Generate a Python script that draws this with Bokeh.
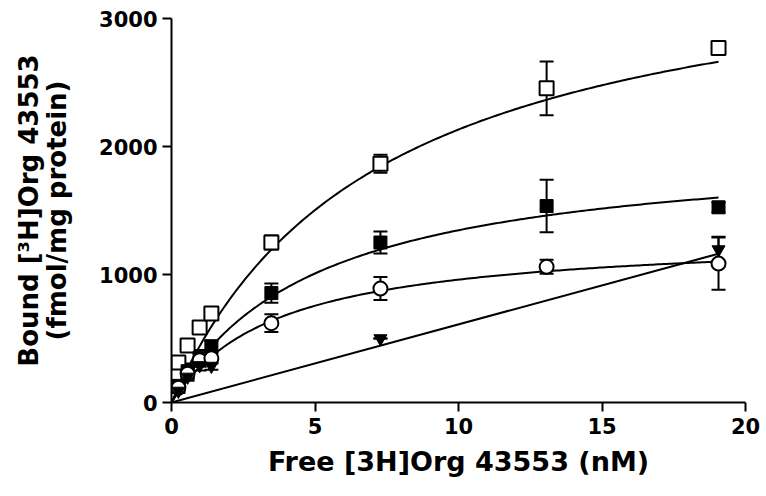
import numpy as np
from bokeh.plotting import figure
from bokeh.models import ColumnDataSource, Whisker, TeeHead, Range1d
from bokeh.embed import file_html
from bokeh.resources import INLINE

# Free concentration (nM)
free_x = [0.24, 0.56, 0.98, 1.39, 3.48, 7.28, 13.07, 19.06]

# Series: bound (fmol/mg protein) and SEM
open_sq_y = [312, 445, 585, 695, 1250, 1865, 2455, 2770]
open_sq_err = [20, 25, 30, 30, 55, 70, 210, 0]
filled_sq_y = [130, 245, 350, 440, 855, 1250, 1535, 1525]
filled_sq_err = [30, 60, 60, 40, 75, 85, 205, 40]
open_ci_y = [115, 225, 330, 345, 620, 890, 1060, 1085]
open_ci_err = [20, 40, 50, 40, 70, 90, 55, 205]
tri_x = [0.24, 0.56, 0.98, 1.39, 7.28, 19.06]
tri_y = [90, 200, 290, 285, 500, 1195]
tri_err = [15, 30, 40, 30, 0, 100]

# Fitted parameters (one-site hyperbola Bmax, Kd)
fit_bmax = [3668, 2024, 1314]
fit_kd = [7.2, 5.04, 3.69]
linear_slope = 61.0
fit_xmax = 19.06

FONT = "DejaVu Sans"

p = figure(width=762, height=492, output_backend="svg", toolbar_location=None,
           x_range=Range1d(0, 20), y_range=Range1d(0, 3000),
           min_border_left=171, min_border_right=17, min_border_top=18, min_border_bottom=90)
p.outline_line_color = None
p.xgrid.visible = False
p.ygrid.visible = False

for ax in (p.xaxis[0], p.yaxis[0]):
    ax.axis_line_width = 2
    ax.major_tick_line_width = 2
    ax.major_tick_out = 9
    ax.major_tick_in = 0
    ax.minor_tick_line_color = None
    ax.major_label_text_font = FONT
    ax.major_label_text_font_style = "bold"
    ax.major_label_text_font_size = "21px"
    ax.major_label_text_color = "black"
    ax.axis_label_text_font = FONT
    ax.axis_label_text_font_style = "bold"
    ax.axis_label_text_font_size = "26px"
    ax.axis_label_text_color = "black"
    ax.axis_label_text_line_height = 0.95

p.xaxis.axis_label_text_font_size = "27px"
p.xaxis.ticker = [0, 5, 10, 15, 20]
p.yaxis.ticker = [0, 1000, 2000, 3000]
p.xaxis.axis_label = "Free [3H]Org 43553 (nM)"
p.yaxis.axis_label = "Bound [\u00b3H]Org 43553\n(fmol/mg protein)"
p.xaxis.major_label_standoff = 6
p.yaxis.major_label_standoff = 5
p.xaxis.axis_label_standoff = 9
p.yaxis.axis_label_standoff = 24

# fitted curves
xs = np.linspace(0, fit_xmax, 200)
for bmax, kd in zip(fit_bmax, fit_kd):
    p.line(xs, bmax * xs / (kd + xs), line_color="black", line_width=2)
p.line([0, fit_xmax], [0, linear_slope * fit_xmax], line_color="black", line_width=2)

def errbars(x, y, e):
    src = ColumnDataSource(dict(x=x, lo=[a - b for a, b in zip(y, e)], hi=[a + b for a, b in zip(y, e)]))
    w = Whisker(source=src, base="x", upper="hi", lower="lo", dimension="height",
                line_color="black", line_width=2,
                upper_head=TeeHead(size=14, line_width=2, line_color="black"),
                lower_head=TeeHead(size=14, line_width=2, line_color="black"))
    p.add_layout(w)

errbars(free_x, open_sq_y, open_sq_err)
errbars(free_x, filled_sq_y, filled_sq_err)
errbars(free_x, open_ci_y, open_ci_err)
errbars(tri_x, tri_y, tri_err)

p.scatter(free_x, open_sq_y, marker="square", size=14, fill_color="white", line_color="black", line_width=2)
p.scatter(free_x, filled_sq_y, marker="square", size=13, fill_color="black", line_color="black", line_width=1)
p.scatter(free_x, open_ci_y, marker="circle", size=14, fill_color="white", line_color="black", line_width=2)
p.scatter(tri_x, tri_y, marker="inverted_triangle", size=13, fill_color="black", line_color="black", line_width=1)

open("out.html", "w").write(file_html(p, INLINE))
